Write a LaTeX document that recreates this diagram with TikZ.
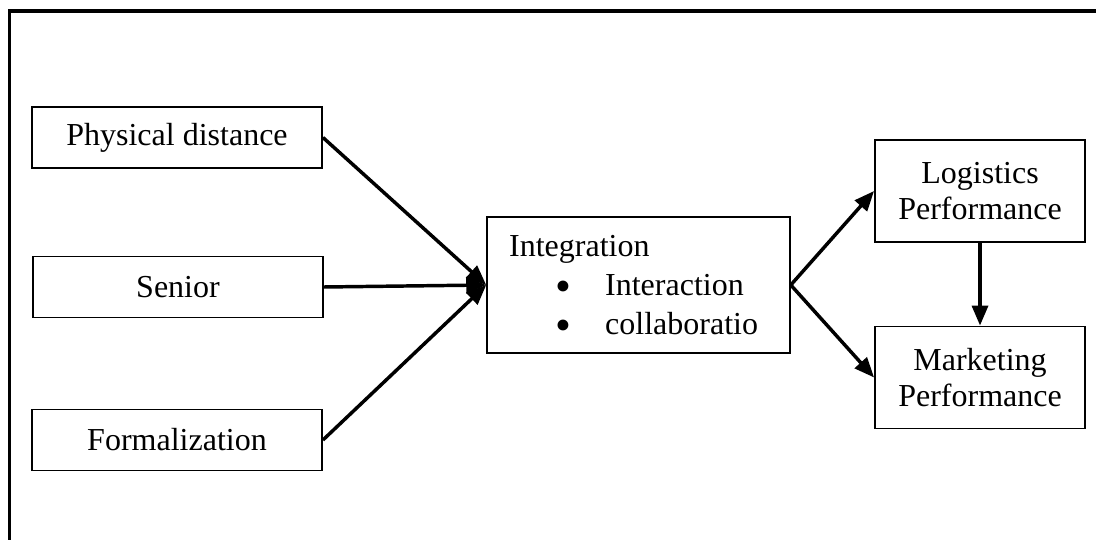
\documentclass[tikz,border=0pt]{standalone}
\usepackage{fontspec}
\setmainfont{Liberation Serif}
\usepackage{tikz}
\usetikzlibrary{arrows.meta}
\tikzset{
	boxstyle/.style={rectangle,draw=black,line width=0.7pt,fill=white,inner sep=2pt,align=center},
	leftstyle/.style={boxstyle,minimum width=108.75pt,minimum height=22.9pt},
	rightstyle/.style={boxstyle,minimum width=78.75pt,minimum height=38.25pt},
	arrowstyle/.style={line width=1.3pt,-{Triangle[length=7.5pt,width=6pt]}}
}
\newcommand{\bigdot}{\smash{\raisebox{-2.3pt}{\fontsize{17}{13.8}\selectfont\textbullet}}}
\begin{document}
\begin{tikzpicture}[x=0.375pt,y=-0.375pt]
		\fontsize{12}{13.8}\selectfont
		\useasboundingbox (0,0) rectangle (1096,540);
		\clip (0,0) rectangle (1096,540);
		\draw[line width=1.3pt] (9.5,11) rectangle (1120,570);
		\node[leftstyle] (dist) at (177,137.5) {Physical distance};
		\node[leftstyle] (senior) at (178,287) {Senior};
		\node[leftstyle] (formal) at (177,440) {Formalization};
		\node[boxstyle,align=left,text width=97pt,inner xsep=8.25pt,minimum height=51pt,
			font=\fontsize{12}{14.6}\selectfont] (integ) at (638.5,285)
			{Integration\\
			\hspace*{17.5pt}\makebox[18.5pt][l]{\bigdot}Interaction\\
			\hspace*{17.5pt}\makebox[18.5pt][l]{\bigdot}collaboratio};
		\node[rightstyle] (logis) at (980,191) {Logistics\\Performance};
		\node[rightstyle] (market) at (980,377.5) {Marketing\\Performance};
		\draw[arrowstyle] (dist.east)--(integ.west);
		\draw[arrowstyle] (senior.east)--(integ.west);
		\draw[arrowstyle] (formal.east)--(integ.west);
		\draw[arrowstyle] (integ.east)--(logis.west);
		\draw[arrowstyle] (integ.east)--(market.west);
		\draw[arrowstyle] (logis.south)--(market.north);
\end{tikzpicture}
\end{document}
